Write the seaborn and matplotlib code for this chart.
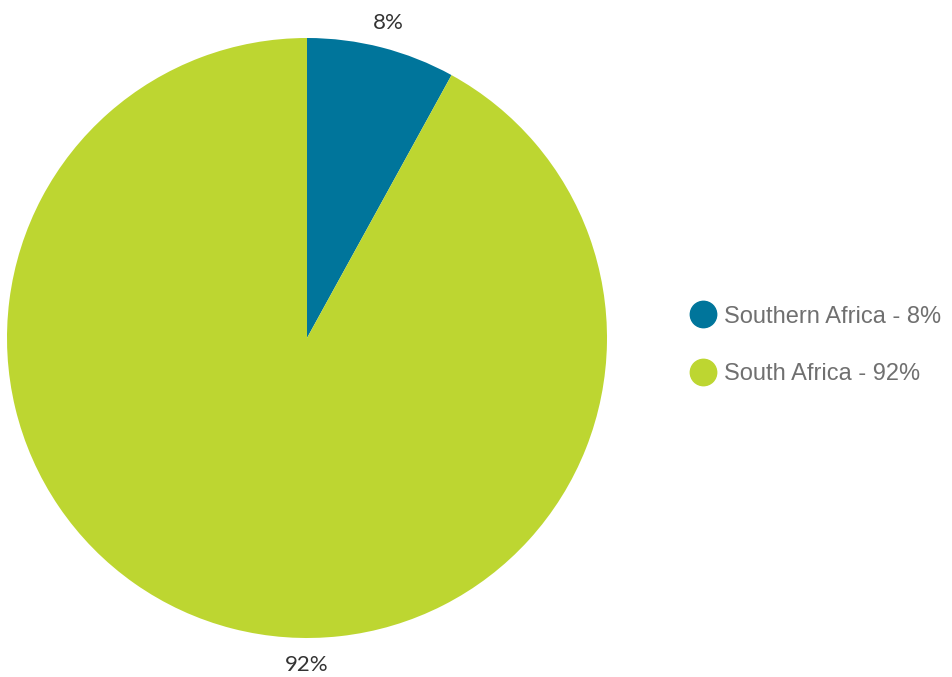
import numpy as np
import seaborn as sns
import matplotlib.pyplot as plt
from matplotlib.lines import Line2D

# Data
regions = ['Southern Africa', 'South Africa']
shares = [8, 92]
colors = ['#00759b', '#bdd631']

sns.set_theme(style='white')
plt.rcParams['font.family'] = ['Liberation Sans', 'DejaVu Sans']

fig = plt.figure(figsize=(9.53, 6.77), dpi=100)
ax = fig.add_axes([7 / 953, 39 / 677, 600 / 953, 600 / 677])

wedges, _ = ax.pie(shares, colors=colors, startangle=90, counterclock=False,
                   radius=1, wedgeprops=dict(linewidth=0))
ax.set_xlim(-1, 1)
ax.set_ylim(-1, 1)
ax.set_aspect('equal')

# percent labels outside the slices
total = sum(shares)
start = 90
for i, v in enumerate(shares):
    mid = start - 360 * v / total / 2
    start -= 360 * v / total
    if v / total < 0.5:
        x, y = 1.085 * np.cos(np.radians(mid)), 1.085 * np.sin(np.radians(mid))
    else:
        x, y = 0, -1.09
    ax.text(x, y, f'{v}%', ha='center', va='center', fontsize=16,
            color='#333333', family=['Lato', 'DejaVu Sans'])

handles = [Line2D([0], [0], marker='o', linestyle='', markersize=19,
                  markerfacecolor=c, markeredgecolor=c) for c in colors]
labels = [f'{r} - {v}%' for r, v in zip(regions, shares)]
leg = fig.legend(handles, labels, loc='center left', bbox_to_anchor=(0.703, 0.49),
                 frameon=False, fontsize=17, handletextpad=0.4,
                 labelspacing=1.5, handlelength=1.0)
for t in leg.get_texts():
    t.set_color('#707070')

fig.savefig('out.png', dpi=100)
